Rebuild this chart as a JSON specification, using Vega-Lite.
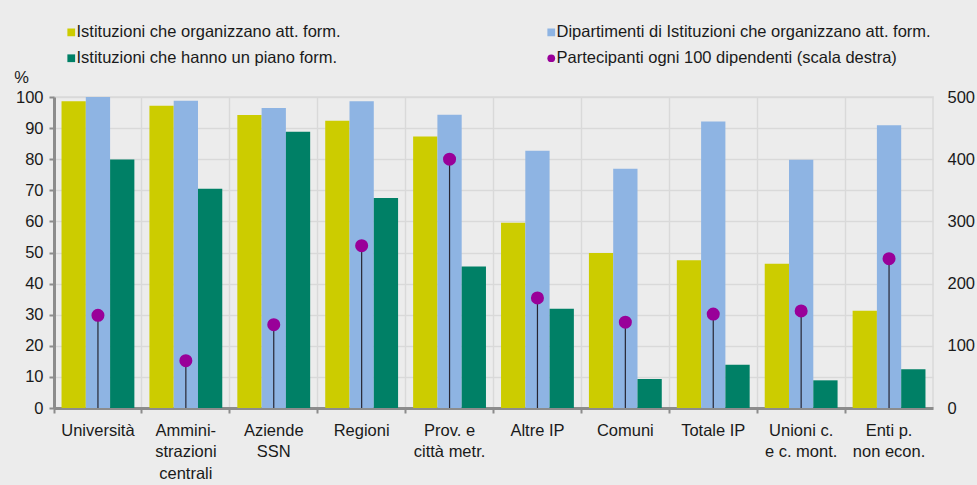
{
  "$schema": "https://vega.github.io/schema/vega-lite/v6.json",
  "width": 879,
  "height": 311,
  "autosize": {"type": "none"},
  "padding": {"left": 54, "top": 97, "right": 44, "bottom": 77},
  "background": "#ececec",
  "config": {
    "font": "Liberation Sans",
    "view": {"stroke": "#d9d9d9", "strokeWidth": 1.5},
    "axis": {"labelFont": "Liberation Sans", "labelFontSize": 16.5, "labelColor": "#1a1a1a", "titleFont": "Liberation Sans"},
    "legend": {"labelFont": "Liberation Sans", "labelFontSize": 16.5, "labelColor": "#1a1a1a"}
  },
  "datasets": {
    "bars": [
      {"cat": "Università", "serie": "Istituzioni che organizzano att. form.", "value": 98.6},
      {"cat": "Università", "serie": "Dipartimenti di Istituzioni che organizzano att. form.", "value": 100},
      {"cat": "Università", "serie": "Istituzioni che hanno un piano form.", "value": 79.9},
      {"cat": "Ammini-|strazioni|centrali", "serie": "Istituzioni che organizzano att. form.", "value": 97.2},
      {"cat": "Ammini-|strazioni|centrali", "serie": "Dipartimenti di Istituzioni che organizzano att. form.", "value": 98.8},
      {"cat": "Ammini-|strazioni|centrali", "serie": "Istituzioni che hanno un piano form.", "value": 70.5},
      {"cat": "Aziende|SSN", "serie": "Istituzioni che organizzano att. form.", "value": 94.2},
      {"cat": "Aziende|SSN", "serie": "Dipartimenti di Istituzioni che organizzano att. form.", "value": 96.5},
      {"cat": "Aziende|SSN", "serie": "Istituzioni che hanno un piano form.", "value": 88.8},
      {"cat": "Regioni", "serie": "Istituzioni che organizzano att. form.", "value": 92.4},
      {"cat": "Regioni", "serie": "Dipartimenti di Istituzioni che organizzano att. form.", "value": 98.6},
      {"cat": "Regioni", "serie": "Istituzioni che hanno un piano form.", "value": 67.5},
      {"cat": "Prov. e|città metr.", "serie": "Istituzioni che organizzano att. form.", "value": 87.3},
      {"cat": "Prov. e|città metr.", "serie": "Dipartimenti di Istituzioni che organizzano att. form.", "value": 94.3},
      {"cat": "Prov. e|città metr.", "serie": "Istituzioni che hanno un piano form.", "value": 45.5},
      {"cat": "Altre IP", "serie": "Istituzioni che organizzano att. form.", "value": 59.6},
      {"cat": "Altre IP", "serie": "Dipartimenti di Istituzioni che organizzano att. form.", "value": 82.7},
      {"cat": "Altre IP", "serie": "Istituzioni che hanno un piano form.", "value": 31.9},
      {"cat": "Comuni", "serie": "Istituzioni che organizzano att. form.", "value": 49.8},
      {"cat": "Comuni", "serie": "Dipartimenti di Istituzioni che organizzano att. form.", "value": 76.9},
      {"cat": "Comuni", "serie": "Istituzioni che hanno un piano form.", "value": 9.3},
      {"cat": "Totale IP", "serie": "Istituzioni che organizzano att. form.", "value": 47.5},
      {"cat": "Totale IP", "serie": "Dipartimenti di Istituzioni che organizzano att. form.", "value": 92.1},
      {"cat": "Totale IP", "serie": "Istituzioni che hanno un piano form.", "value": 13.9},
      {"cat": "Unioni c.|e c. mont.", "serie": "Istituzioni che organizzano att. form.", "value": 46.4},
      {"cat": "Unioni c.|e c. mont.", "serie": "Dipartimenti di Istituzioni che organizzano att. form.", "value": 79.8},
      {"cat": "Unioni c.|e c. mont.", "serie": "Istituzioni che hanno un piano form.", "value": 8.9},
      {"cat": "Enti p.|non econ.", "serie": "Istituzioni che organizzano att. form.", "value": 31.3},
      {"cat": "Enti p.|non econ.", "serie": "Dipartimenti di Istituzioni che organizzano att. form.", "value": 90.9},
      {"cat": "Enti p.|non econ.", "serie": "Istituzioni che hanno un piano form.", "value": 12.5}
    ],
    "dots": [
      {"cat": "Università", "serie": "Partecipanti ogni 100 dipendenti (scala destra)", "part": 149},
      {"cat": "Ammini-|strazioni|centrali", "serie": "Partecipanti ogni 100 dipendenti (scala destra)", "part": 76},
      {"cat": "Aziende|SSN", "serie": "Partecipanti ogni 100 dipendenti (scala destra)", "part": 134},
      {"cat": "Regioni", "serie": "Partecipanti ogni 100 dipendenti (scala destra)", "part": 261},
      {"cat": "Prov. e|città metr.", "serie": "Partecipanti ogni 100 dipendenti (scala destra)", "part": 400},
      {"cat": "Altre IP", "serie": "Partecipanti ogni 100 dipendenti (scala destra)", "part": 177},
      {"cat": "Comuni", "serie": "Partecipanti ogni 100 dipendenti (scala destra)", "part": 138},
      {"cat": "Totale IP", "serie": "Partecipanti ogni 100 dipendenti (scala destra)", "part": 151},
      {"cat": "Unioni c.|e c. mont.", "serie": "Partecipanti ogni 100 dipendenti (scala destra)", "part": 156},
      {"cat": "Enti p.|non econ.", "serie": "Partecipanti ogni 100 dipendenti (scala destra)", "part": 240}
    ]
  },
  "layer": [
    {
      "data": {"name": "bars"},
      "mark": {"type": "bar"},
      "encoding": {
        "x": {
          "field": "cat", "type": "nominal", "sort": null,
          "scale": {"paddingInner": 0, "paddingOuter": 0},
          "axis": {
            "title": null, "labelAngle": 0, "bandPosition": 0,
            "labelExpr": "split(datum.label, '|')", "labelLineHeight": 21.5,
            "labelBaseline": "top", "labelPadding": 9,
            "domainColor": "#8c8c8c", "domainWidth": 3,
            "tickColor": "#8c8c8c", "tickWidth": 2, "tickSize": 5,
            "grid": true, "gridColor": "#d9d9d9", "gridWidth": 1.5
          }
        },
        "xOffset": {
          "field": "serie", "type": "nominal",
          "scale": {
            "domain": ["Istituzioni che organizzano att. form.", "Dipartimenti di Istituzioni che organizzano att. form.", "Istituzioni che hanno un piano form."],
            "paddingInner": 0, "paddingOuter": 0.31
          }
        },
        "y": {
          "field": "value", "type": "quantitative",
          "scale": {"domain": [0, 100], "nice": false},
          "axis": {
            "title": "%", "titleAngle": 0, "titleX": -33, "titleY": -15, "titleAlign": "center",
            "titleBaseline": "alphabetic", "titleFontSize": 16.5, "titleFontWeight": "normal", "titleColor": "#1a1a1a",
            "values": [0, 10, 20, 30, 40, 50, 60, 70, 80, 90, 100],
            "domainColor": "#8c8c8c", "domainWidth": 3,
            "tickColor": "#8c8c8c", "tickWidth": 2, "tickSize": 5, "labelPadding": 6,
            "grid": true, "gridColor": "#d9d9d9", "gridWidth": 1.5
          }
        },
        "color": {
          "field": "serie", "type": "nominal",
          "scale": {
            "domain": ["Istituzioni che organizzano att. form.", "Istituzioni che hanno un piano form.", "Dipartimenti di Istituzioni che organizzano att. form.", "Partecipanti ogni 100 dipendenti (scala destra)"],
            "range": ["#cccc00", "#008066", "#8eb4e3", "#990099"]
          },
          "legend": {
            "title": null, "orient": "none", "legendX": 9, "legendY": -73,
            "columns": 2, "columnPadding": 202, "rowPadding": 9,
            "symbolType": "square", "symbolSize": 60, "symbolStrokeWidth": 0, "labelOffset": -3,
            "labelLimit": 600,
            "encode": {
              "symbols": {
                "update": {
                  "shape": {"signal": "datum.label == 'Partecipanti ogni 100 dipendenti (scala destra)' ? 'circle' : 'square'"},
                  "opacity": {"value": 1}
                }
              }
            }
          }
        }
      }
    },
    {
      "data": {"name": "dots"},
      "encoding": {
        "x": {"field": "cat", "type": "nominal", "sort": null},
        "y": {
          "field": "part", "type": "quantitative",
          "scale": {"domain": [0, 500], "nice": false},
          "axis": {
            "title": null, "orient": "right", "values": [0, 100, 200, 300, 400, 500],
            "grid": false, "domain": false, "ticks": false, "labelPadding": 14
          }
        }
      },
      "layer": [
        {
          "mark": {"type": "rule", "color": "#262633", "strokeWidth": 1.2},
          "encoding": {"y2": {"datum": 0}}
        },
        {
          "mark": {"type": "point", "filled": true, "size": 170, "opacity": 1},
          "encoding": {"color": {"field": "serie", "type": "nominal"}}
        }
      ]
    }
  ],
  "resolve": {"scale": {"y": "independent"}}
}
